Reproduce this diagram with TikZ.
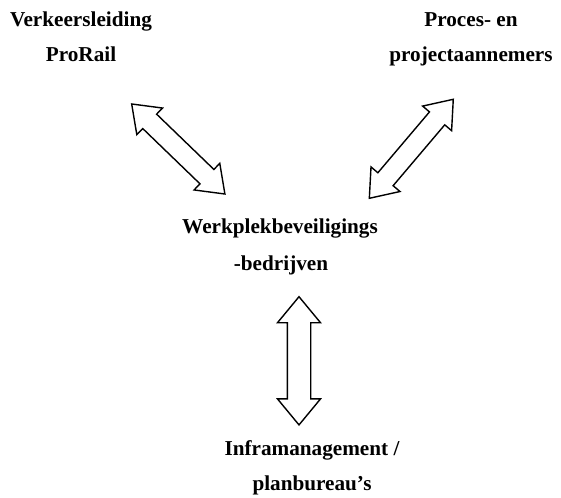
\documentclass[tikz,border=0pt]{standalone}
\usepackage{fontspec}
\setmainfont{Liberation Serif}
\begin{document}
\begin{tikzpicture}[x=1pt,y=-1pt,
  lbl/.style={font=\fontsize{21.2}{25}\selectfont\bfseries, anchor=base, inner sep=0pt},
  blockarrow/.style={draw=black, line width=1.4pt, fill=white, line join=miter}]
\useasboundingbox (0,0) rectangle (561,497);
% labels
\node[lbl] (vl1) at (81,26.7) {Verkeersleiding};
\node[lbl] (vl2) at (81,61.7) {ProRail};
\node[lbl] (pa1) at (471,26.7) {Proces- en};
\node[lbl] (pa2) at (471,61.7) {projectaannemers};
\node[lbl] (wb1) at (280,233) {Werkplekbeveiligings};
\node[lbl] (wb2) at (281,270) {-bedrijven};
\node[lbl] (im1) at (312,455) {Inframanagement /};
\node[lbl] (im2) at (312,490) {planbureau's};
% arrow 1 (upper left)
\begin{scope}[shift={(178.3,149)}, rotate=-44]
\draw[blockarrow] (-64.8,0) -- (-39.8,18.5) -- (-39.8,10) -- (39.8,10) -- (39.8,18.5) -- (64.8,0)
  -- (39.8,-18.5) -- (39.8,-10) -- (-39.8,-10) -- (-39.8,-18.5) -- cycle;
\end{scope}
% arrow 2 (upper right)
\begin{scope}[shift={(411.3,148.8)}, rotate=49.7]
\draw[blockarrow] (-64.9,0) -- (-39.9,19) -- (-39.9,10) -- (39.9,10) -- (39.9,19) -- (64.9,0)
  -- (39.9,-19) -- (39.9,-10) -- (-39.9,-10) -- (-39.9,-19) -- cycle;
\end{scope}
% arrow 3 (vertical)
\begin{scope}[shift={(299,360.8)}, rotate=90]
\draw[blockarrow] (-64.1,0) -- (-38.1,21.5) -- (-38.1,11.7) -- (38.1,11.7) -- (38.1,21.5) -- (64.1,0)
  -- (38.1,-21.5) -- (38.1,-11.7) -- (-38.1,-11.7) -- (-38.1,-21.5) -- cycle;
\end{scope}
\end{tikzpicture}
\end{document}
